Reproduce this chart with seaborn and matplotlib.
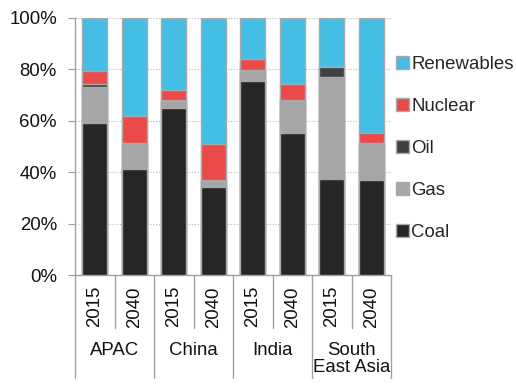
import matplotlib
matplotlib.use("Agg")
import matplotlib.pyplot as plt
from matplotlib.lines import Line2D
from matplotlib.patches import Patch
import numpy as np
import pandas as pd
import seaborn as sns

# Power generation mix by region, share of total (%)
regions = ["APAC", "China", "India", "South\nEast Asia"]
years = ["2015", "2040"]
sources = ["Coal", "Gas", "Oil", "Nuclear", "Renewables"]

coal = [59.0, 41.4, 64.9, 34.4, 75.5, 55.4, 37.2, 37.0]
gas = [14.0, 9.5, 2.8, 2.2, 3.9, 12.4, 40.0, 14.0]
oil = [1.3, 0.3, 0.2, 0.2, 0.3, 0.2, 3.6, 0.5]
nuclear = [5.0, 10.5, 4.0, 14.2, 4.2, 6.4, 0.0, 3.8]
renewables = [20.7, 38.3, 28.1, 49.0, 16.1, 25.6, 19.2, 44.7]

colors = {
    "Coal": "#262626",
    "Gas": "#A6A6A6",
    "Oil": "#404040",
    "Nuclear": "#EA4A4A",
    "Renewables": "#45BEE5",
}

sns.set_theme(style="white")
plt.rcParams["font.family"] = ["Liberation Sans", "DejaVu Sans"]
FS = 13.4
TXT = "#111111"

slots = [f"{r}|{y}" for r in regions for y in years]
shares = pd.DataFrame(
    {"Coal": coal, "Gas": gas, "Oil": oil, "Nuclear": nuclear, "Renewables": renewables},
    index=slots,
)
cum = shares.cumsum(axis=1)

fig = plt.figure(figsize=(5.16, 3.85), dpi=100)
ax = fig.add_axes([75 / 516, 110 / 385, 316 / 516, 257 / 385])

# Stack by drawing cumulative totals from the top layer down
for src in reversed(sources):
    df = pd.DataFrame({"slot": slots, "value": cum[src].values})
    sns.barplot(
        data=df, x="slot", y="value", order=slots, color=colors[src],
        width=0.63, edgecolor="#A9A9A9", linewidth=1.0, saturation=1,
        ax=ax, zorder=3,
    )

ax.set_xlim(-0.5, len(slots) - 0.5)
ax.set_ylim(0, 100)
ax.set_yticks(np.arange(0, 101, 20))
ax.set_yticklabels([f"{v}%" for v in range(0, 101, 20)], fontsize=FS, color=TXT)
ax.tick_params(axis="y", length=5, width=0.8, color="#999999", pad=8, left=True)
ax.set_xticks([])
ax.set_xlabel("")
ax.set_ylabel("")
ax.yaxis.grid(True, linestyle=(0, (1, 1.5)), color="#B8B8B8", linewidth=0.8, zorder=0)
ax.set_axisbelow(True)

for side in ["top", "right"]:
    ax.spines[side].set_visible(False)
for side in ["left", "bottom"]:
    ax.spines[side].set_color("#A0A0A0")
    ax.spines[side].set_linewidth(1.0)

# Two-level category labels
for i, s in enumerate(slots):
    yr = s.split("|")[1]
    ax.annotate(yr, xy=(i, 0), xycoords=("data", "axes fraction"),
                xytext=(0, -8.0), textcoords="offset points",
                rotation=90, ha="center", va="top", fontsize=FS, color=TXT)

for g, reg in enumerate(regions):
    ax.annotate(reg, xy=(2 * g + 0.5, 0), xycoords=("data", "axes fraction"),
                xytext=(0, -48.5), textcoords="offset points",
                ha="center", va="top", fontsize=FS, color=TXT,
                linespacing=1.0, multialignment="center")

trans = ax.get_xaxis_transform()
for k in range(len(slots) + 1):
    x = k - 0.5
    y_end = -0.40 if k % 2 == 0 else -0.205
    ax.add_line(Line2D([x, x], [0, y_end], transform=trans, color="#A0A0A0",
                       linewidth=1.0, clip_on=False))

# Legend, top entry first
handles = [Patch(facecolor=colors[s], edgecolor="#A9A9A9", linewidth=1.0, label=s)
           for s in reversed(sources)]
fig.legend(handles=handles, loc="upper left", bbox_to_anchor=(389 / 516, 1 - 49 / 385),
           frameon=False, fontsize=FS, handlelength=0.7, handleheight=0.7,
           handletextpad=0.1, labelspacing=1.33, borderaxespad=0)

fig.savefig("out.png", dpi=100)
